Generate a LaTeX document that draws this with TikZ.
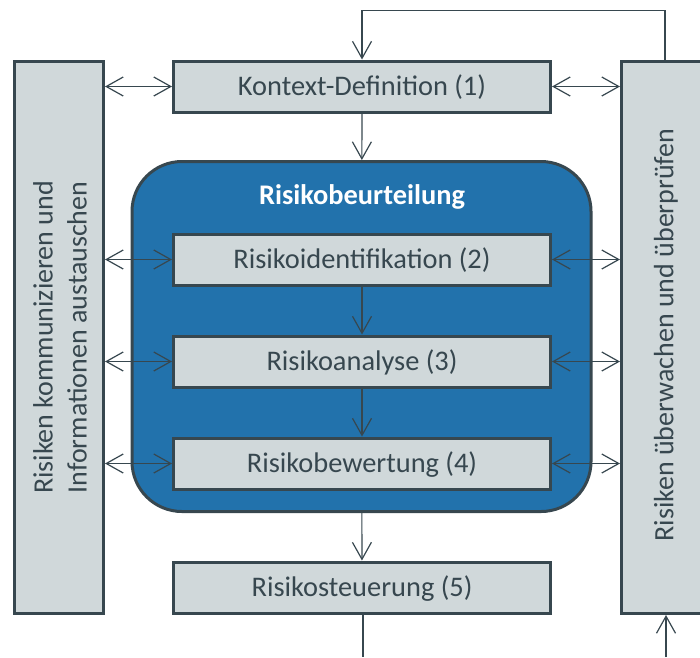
\documentclass[tikz,border=0pt]{standalone}
\usepackage{fontspec}
\setmainfont{Carlito}
\usetikzlibrary{arrows.meta}
\definecolor{boxfill}{HTML}{D0D8DA}
\definecolor{edge}{HTML}{37474F}
\definecolor{blueA}{HTML}{2272AC}
\definecolor{txt}{HTML}{37474F}
\tikzset{
  barb/.tip={Straight Barb[length=17pt,width=19pt]},
  stage/.style={draw=edge, line width=3pt, fill=boxfill, minimum width=377pt,
    minimum height=51pt, inner sep=0pt, text=txt, text height=24pt, text depth=6.5pt,
    font=\fontsize{28.4}{34}\selectfont},
  side/.style={draw=edge, line width=3pt, fill=boxfill, inner sep=0pt},
  sidetext/.style={rotate=90, align=center, text=txt,
    font=\fontsize{28}{34}\selectfont},
  link/.style={draw=edge, line width=1.2pt, -barb},
  both/.style={draw=edge, line width=1.2pt, barb-barb},
  plain/.style={draw=edge, line width=1.2pt},
}
\begin{document}
\begin{tikzpicture}[x=1pt,y=-1pt]
\useasboundingbox (0,0) rectangle (700,657);
\begin{scope}
\clip (0,0) rectangle (700,657);
% side panels
\node[side, minimum width=89pt, minimum height=552pt] (left) at (59,337.5) {};
\node[side, minimum width=96pt, minimum height=552pt] (right) at (669.5,337.5) {};
\node[sidetext] (lefttext) at (60,337.5) {Risiken kommunizieren und\\Informationen austauschen};
\node[sidetext] (righttext) at (666,335) {Risiken überwachen und überprüfen};

% assessment block
\node[draw=edge, line width=3pt, fill=blueA, rounded corners=50pt,
  minimum width=459pt, minimum height=350pt, inner sep=0pt] (assess) at (361.5,336.5) {};
\node[text=white, font=\fontsize{28.4}{34}\selectfont\bfseries] (title) at (362,197) {Risikobeurteilung};

% process steps
\node[stage] (ctx) at (362,86.5) {Kontext-Definition (1)};
\node[stage] (ident) at (362,259.5) {Risikoidentifikation (2)};
\node[stage] (analyse) at (362,361.5) {Risikoanalyse (3)};
\node[stage] (eval) at (362,463.5) {Risikobewertung (4)};
\node[stage] (treat) at (362,587.5) {Risikosteuerung (5)};

% main flow
\draw[link] (ctx) -- (assess);
\draw[link] (ident) -- (analyse);
\draw[link] (analyse) -- (eval);
\draw[link] (assess) -- (treat);
\coordinate (out) at (363,657);
\draw[plain] (treat.south -| out) -- (out);

% exchange with the side panels
\foreach \n in {ctx,ident,analyse,eval}{
  \draw[both] (left.east |- \n.west) -- (\n.west);
  \draw[both] (\n.east) -- (right.west |- \n.east);
}

% feedback loop
\draw[link] ([xshift=-4.5pt]right.north) -- ++(0,-49.5) -| (ctx.north);
\coordinate (in) at (666,657);
\draw[link] (in) -- (in |- right.south);
\end{scope}
\end{tikzpicture}
\end{document}
